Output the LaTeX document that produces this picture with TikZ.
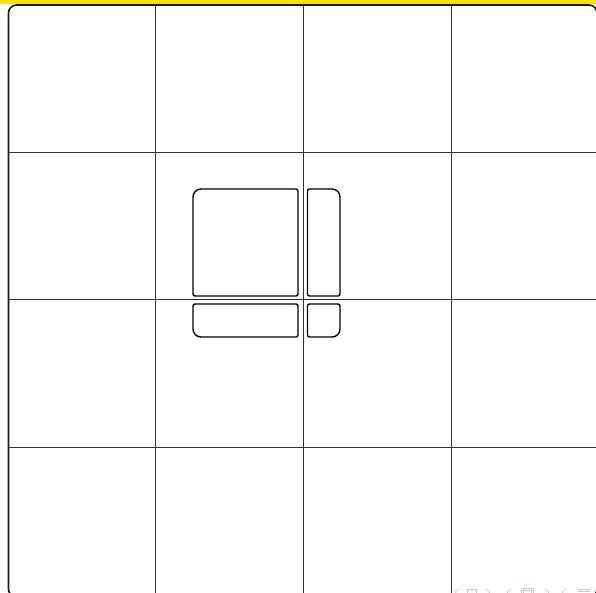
\documentclass[tikz,border=0pt]{standalone}
\definecolor{baryellow}{RGB}{250,226,0}
\definecolor{navcol}{RGB}{196,196,236}
\begin{document}
\begin{tikzpicture}[x=1pt,y=1pt,
  gridline/.style={draw=black!80,line width=0.8pt},
  framebox/.style={draw=black!90,line width=1.6pt},
  panel/.style={draw=black,line width=1.4pt},
  nav/.style={draw=navcol,line width=0.6pt}]
\useasboundingbox (0,0) rectangle (596,-592);
% yellow bar
\fill[baryellow] (0,0) rectangle (596,-4.2);
% grid
\foreach \gx in {155.5,303.3,451.3} \draw[gridline] (\gx,-5) -- (\gx,-597);
\foreach \gy in {152.5,299.5,447} \draw[gridline] (8,-\gy) -- (597,-\gy);
% frame
\draw[framebox,rounded corners=8pt] (8.5,-5) rectangle (597,-597);
% big box (top-left rounded)
\draw[panel] (193,-197) arc[start angle=180,end angle=90,radius=8pt]
  -- (296,-189) arc[start angle=90,end angle=0,radius=2pt]
  -- (298,-294) arc[start angle=0,end angle=-90,radius=2pt]
  -- (195,-296) arc[start angle=270,end angle=180,radius=2pt] -- cycle;
% tall right box (top-right rounded)
\draw[panel] (307.5,-191) arc[start angle=180,end angle=90,radius=2pt]
  -- (332,-189) arc[start angle=90,end angle=0,radius=8pt]
  -- (340,-294) arc[start angle=0,end angle=-90,radius=2pt]
  -- (309.5,-296) arc[start angle=270,end angle=180,radius=2pt] -- cycle;
% bottom-left box (bottom-left rounded)
\draw[panel] (193,-306) arc[start angle=180,end angle=90,radius=2pt]
  -- (296,-304) arc[start angle=90,end angle=0,radius=2pt]
  -- (298,-335) arc[start angle=0,end angle=-90,radius=2pt]
  -- (201,-337) arc[start angle=270,end angle=180,radius=8pt] -- cycle;
% bottom-right box (bottom-right rounded)
\draw[panel] (307.5,-306) arc[start angle=180,end angle=90,radius=2pt]
  -- (338,-304) arc[start angle=90,end angle=0,radius=2pt]
  -- (340,-329) arc[start angle=0,end angle=-90,radius=8pt]
  -- (309.5,-337) arc[start angle=270,end angle=180,radius=2pt] -- cycle;
% navigation symbols (mostly cut off)
\draw[nav] (459,-589) -- (455,-592) -- (459,-595);
\draw[nav] (467,-589.5) rectangle (476,-597);
\draw[nav] (486,-589) -- (490,-592) -- (486,-595);
\draw[nav] (511,-589) -- (507,-592) -- (511,-595);
\draw[nav] (523,-588.5) rectangle (533,-596);
\draw[nav] (521,-590.5) rectangle (531,-598);
\draw[nav] (545,-589) -- (549,-592) -- (545,-595);
\draw[nav] (566,-589) -- (562,-592) -- (566,-595);
\draw[nav] (578,-589) -- (590,-589) (578,-591.5) -- (590,-591.5);
\end{tikzpicture}
\end{document}
